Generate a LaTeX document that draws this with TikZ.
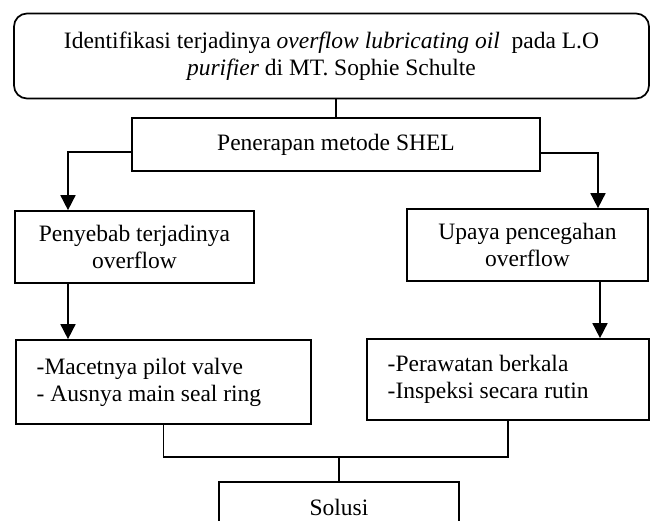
\documentclass[tikz,border=0pt]{standalone}
\usepackage{fontspec}
\setmainfont{Liberation Serif}
\usetikzlibrary{arrows.meta}
\begin{document}
\begin{tikzpicture}[x=1pt,y=-1pt,
  box/.style={draw,line width=1.7pt,inner sep=0pt,align=flush center,
    font=\fontsize{23.5}{27}\selectfont},
  listbox/.style={box,align=flush left,inner xsep=20.7pt},
  link/.style={line width=1.7pt},
  arr/.style={link,-{Triangle[length=15pt,width=15pt]}}]
\useasboundingbox (0,0) rectangle (656,520);
\clip (0,0) rectangle (656,520);
\node[box,rounded corners=13pt,minimum width=635pt,minimum height=85pt] (top) at (331.5,56)
  {Identifikasi terjadinya \textit{overflow lubricating oil}\ \ pada L.O\\ \textit{purifier} di MT. Sophie Schulte};
\node[box,minimum width=408pt,minimum height=53pt] (shel) at (336,144.5) {Penerapan metode SHEL};
\node[box,minimum width=239pt,minimum height=72pt] (pen) at (134.5,247) {Penyebab terjadinya\\overflow};
\node[box,minimum width=241pt,minimum height=72pt] (upa) at (527.5,245) {Upaya pencegahan\\overflow};
\node[listbox,text width=253.6pt,minimum height=84pt] (bl) at (163.5,382) {-Macetnya pilot valve\\- Ausnya main seal ring};
\node[listbox,text width=240.6pt,minimum height=81pt] (br) at (508,379.5) {-Perawatan berkala\\-Inspeksi secara rutin};
\node[box,minimum width=240pt,minimum height=50pt] (sol) at (339,507) {Solusi};
\draw[link] (shel.north) -- (shel.north |- top.south);
\draw[arr] ([yshift=-7.5pt]shel.west) -| ([xshift=-66.5pt]pen.north);
\draw[arr] ([yshift=-8.5pt]shel.east) -| ([xshift=70.5pt]upa.north);
\draw[arr] ([xshift=-66.5pt]pen.south) -- ([xshift=-66.5pt]pen.south |- bl.north);
\draw[arr] ([xshift=72.5pt]upa.south) -- ([xshift=72.5pt]upa.south |- br.north);
\coordinate (j) at (339,457);
\draw[link] (bl.south) |- (j) -| (br.south);
\draw[link] (j) -- (sol.north);
\end{tikzpicture}
\end{document}
